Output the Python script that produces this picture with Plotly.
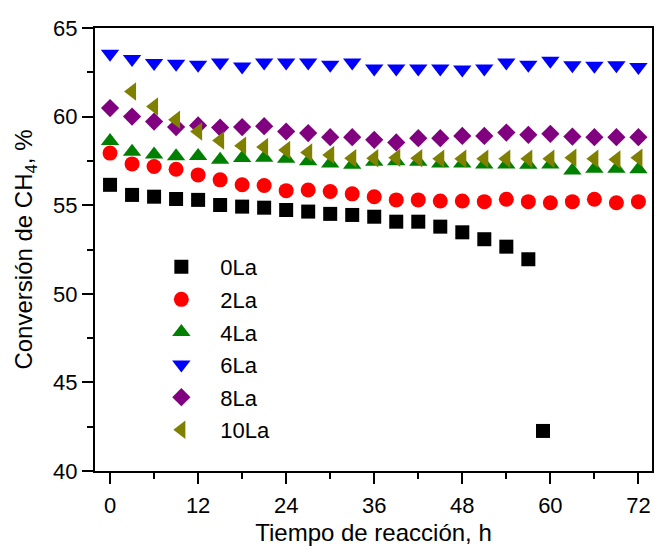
import plotly.graph_objects as go

t_0La = [0, 3, 6, 9, 12, 15, 18, 21, 24, 27, 30, 33, 36, 39, 42, 45, 48, 51, 54, 57, 59]
y_0La = [56.15, 55.58, 55.48, 55.35, 55.30, 55.01, 54.92, 54.86, 54.73, 54.64, 54.51, 54.45,
         54.35, 54.07, 54.07, 53.79, 53.47, 53.08, 52.66, 51.95, 42.26]

t_full = [0, 3, 6, 9, 12, 15, 18, 21, 24, 27, 30, 33, 36, 39, 42, 45, 48, 51, 54, 57, 60, 63, 66, 69, 72]
y_2La = [57.94, 57.33, 57.18, 57.03, 56.71, 56.43, 56.15, 56.11, 55.82, 55.86, 55.77, 55.64,
         55.48, 55.30, 55.30, 55.24, 55.24, 55.20, 55.34, 55.20, 55.14, 55.20, 55.34, 55.14, 55.20]
y_4La = [58.62, 58.02, 57.86, 57.76, 57.78, 57.56, 57.66, 57.68, 57.62, 57.48, 57.36, 57.28,
         57.45, 57.48, 57.45, 57.36, 57.35, 57.30, 57.30, 57.28, 57.30, 56.96, 57.05, 57.05, 57.03]
y_6La = [63.55, 63.25, 63.02, 62.98, 62.93, 63.06, 62.83, 63.06, 63.06, 63.06, 62.93, 63.06,
         62.72, 62.72, 62.72, 62.72, 62.66, 62.72, 63.06, 62.93, 63.15, 62.90, 62.87, 62.90, 62.80]
y_8La = [60.48, 60.00, 59.72, 59.41, 59.50, 59.38, 59.41, 59.46, 59.16, 59.07, 58.84, 58.84,
         58.69, 58.54, 58.78, 58.78, 58.91, 58.91, 59.10, 58.97, 59.03, 58.87, 58.84, 58.84, 58.84]
t_10La = [3, 6, 9, 12, 15, 18, 21, 24, 27, 30, 33, 36, 39, 42, 45, 48, 51, 54, 57, 60, 63, 66, 69, 72]
y_10La = [61.42, 60.57, 59.82, 59.16, 58.65, 58.35, 58.28, 58.12, 57.97, 57.84, 57.65,
          57.65, 57.68, 57.65, 57.62, 57.62, 57.62, 57.62, 57.62, 57.62, 57.68, 57.62, 57.58, 57.68]

x_ticks = [0, 12, 24, 36, 48, 60, 72]
y_ticks = [40, 45, 50, 55, 60, 65]

series = [
    ("0La", t_0La, y_0La, "square", "#000000", 14),
    ("2La", t_full, y_2La, "circle", "#FF0000", 15),
    ("4La", t_full, y_4La, "triangle-up", "#008000", 16),
    ("6La", t_full, y_6La, "triangle-down", "#0000FF", 16),
    ("8La", t_full, y_8La, "diamond", "#800080", 14),
    ("10La", t_10La, y_10La, "triangle-left", "#808000", 16),
]

FONT = "Liberation Sans, Arial, sans-serif"

fig = go.Figure()
for name, xs, ys, sym, col, sz in series:
    fig.add_trace(go.Scatter(
        x=xs, y=ys, mode="markers", name=name, legendgroup=name,
        marker=dict(symbol=sym, color=col, size=sz, line=dict(width=0)),
    ))

axis_common = dict(
    showgrid=False, zeroline=False, showline=True, linecolor="black", linewidth=2,
    mirror=True, ticks="outside", tickwidth=2, ticklen=11, tickcolor="black",
    tickfont=dict(family=FONT, size=22, color="black"), automargin=False,
)

fig.update_xaxes(
    range=[-2.05, 73.85], tickvals=x_ticks, ticktext=[str(v) for v in x_ticks],
    minor=dict(dtick=6, tick0=0, ticks="outside", ticklen=6, tickwidth=2, tickcolor="black"),
    ticklabelstandoff=3,
    title=dict(text="Tiempo de reacción, h", font=dict(family=FONT, size=24, color="black"), standoff=14),
    **axis_common,
)
fig.update_yaxes(
    range=[40, 65], tickvals=y_ticks, ticktext=[str(v) for v in y_ticks],
    minor=dict(dtick=2.5, tick0=40, ticks="outside", ticklen=6, tickwidth=2, tickcolor="black"),
    title=dict(text="Conversión de CH<sub>4</sub>, %", font=dict(family=FONT, size=24, color="black"), standoff=14),
    **axis_common,
)

fig.update_layout(
    width=655, height=546,
    margin=dict(l=95, r=3, t=28, b=75),
    paper_bgcolor="white", plot_bgcolor="white",
    font=dict(family=FONT, size=22, color="black"),
    showlegend=True,
    legend=dict(
        x=0.085, y=0.508, xanchor="left", yanchor="top",
        bgcolor="rgba(0,0,0,0)", borderwidth=0,
        font=dict(family=FONT, size=22, color="black"),
        itemwidth=68, tracegroupgap=1,
    ),
)

fig.write_html("out.html")
